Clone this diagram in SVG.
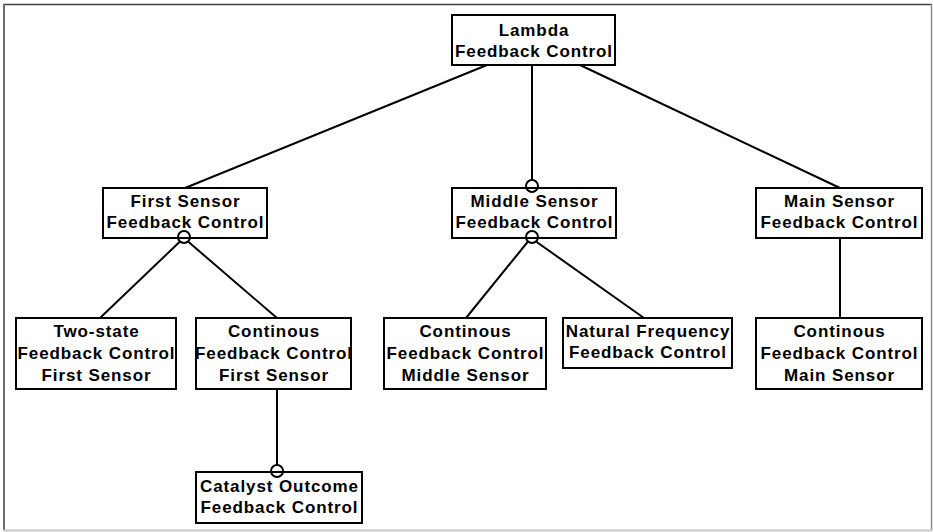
<svg xmlns="http://www.w3.org/2000/svg" width="933" height="532" viewBox="0 0 933 532">
  <style>
    .box { fill: #ffffff; stroke: #000000; stroke-width: 2; }
    .lbl { font-family: "Liberation Sans", Arial, sans-serif; font-size: 17px; font-weight: bold; letter-spacing: 0.9px; fill: #000000; text-anchor: middle; }
    .edge { stroke: #000000; stroke-width: 2; fill: none; }
    .opt { stroke: #000000; stroke-width: 2; fill: none; }
  </style>
  <rect x="0" y="0" width="933" height="532" fill="#ffffff"/>
  <!-- panel frame -->
  <g id="frame">
    <line x1="3" y1="4.5" x2="932" y2="4.5" stroke="#404040" stroke-width="1.5"/>
    <line x1="4" y1="4" x2="4" y2="531" stroke="#707070" stroke-width="2"/>
    <line x1="931.5" y1="4" x2="931.5" y2="531" stroke="#8a8a8a" stroke-width="1.5"/>
    <line x1="3" y1="530.5" x2="932" y2="530.5" stroke="#c8c8c8" stroke-width="2"/>
  </g>

  <!-- nodes -->
  <g id="lambda">
    <rect class="box" x="452" y="15" width="163" height="50"/>
    <text class="lbl" x="534" y="36">Lambda</text>
    <text class="lbl" x="534" y="57">Feedback Control</text>
  </g>
  <g id="first-sensor">
    <rect class="box" x="103" y="188" width="164" height="50"/>
    <text class="lbl" x="185.5" y="207">First Sensor</text>
    <text class="lbl" x="185.5" y="228">Feedback Control</text>
  </g>
  <g id="middle-sensor">
    <rect class="box" x="452" y="188" width="164" height="50"/>
    <text class="lbl" x="534.5" y="207">Middle Sensor</text>
    <text class="lbl" x="534.5" y="228">Feedback Control</text>
  </g>
  <g id="main-sensor">
    <rect class="box" x="756" y="188" width="166" height="50"/>
    <text class="lbl" x="839.5" y="207">Main Sensor</text>
    <text class="lbl" x="839.5" y="228">Feedback Control</text>
  </g>
  <g id="two-state-first">
    <rect class="box" x="16" y="318" width="160" height="71"/>
    <text class="lbl" x="96.5" y="337">Two-state</text>
    <text class="lbl" x="96.5" y="359">Feedback Control</text>
    <text class="lbl" x="96.5" y="381">First Sensor</text>
  </g>
  <g id="continuous-first">
    <rect class="box" x="196" y="318" width="155" height="71"/>
    <text class="lbl" x="274" y="337">Continous</text>
    <text class="lbl" x="274" y="359">Feedback Control</text>
    <text class="lbl" x="274" y="381">First Sensor</text>
  </g>
  <g id="continuous-middle">
    <rect class="box" x="384" y="318" width="162" height="71"/>
    <text class="lbl" x="465.5" y="337">Continous</text>
    <text class="lbl" x="465.5" y="359">Feedback Control</text>
    <text class="lbl" x="465.5" y="381">Middle Sensor</text>
  </g>
  <g id="natural-frequency">
    <rect class="box" x="563" y="318" width="169" height="50"/>
    <text class="lbl" x="648" y="337">Natural Frequency</text>
    <text class="lbl" x="648" y="358">Feedback Control</text>
  </g>
  <g id="continuous-main">
    <rect class="box" x="756" y="318" width="166" height="71"/>
    <text class="lbl" x="839.5" y="337">Continous</text>
    <text class="lbl" x="839.5" y="359">Feedback Control</text>
    <text class="lbl" x="839.5" y="381">Main Sensor</text>
  </g>
  <g id="catalyst-outcome">
    <rect class="box" x="196" y="472" width="166" height="51"/>
    <text class="lbl" x="279.5" y="492">Catalyst Outcome</text>
    <text class="lbl" x="279.5" y="513">Feedback Control</text>
  </g>

  <!-- connectors -->
  <g id="connectors">
    <line class="edge" x1="487" y1="65" x2="185" y2="188"/>
    <line class="edge" x1="532" y1="65" x2="532" y2="180"/>
    <circle class="opt" cx="532" cy="186" r="6"/>
    <line class="edge" x1="580" y1="65" x2="840" y2="188"/>

    <circle class="opt" cx="184" cy="237" r="6"/>
    <line class="edge" x1="180" y1="241.5" x2="100" y2="318"/>
    <line class="edge" x1="188" y1="241.5" x2="277" y2="318"/>

    <circle class="opt" cx="532" cy="237" r="6"/>
    <line class="edge" x1="528" y1="241.5" x2="466" y2="318"/>
    <line class="edge" x1="536" y1="241.5" x2="644" y2="318"/>

    <line class="edge" x1="840" y1="238" x2="840" y2="318"/>

    <line class="edge" x1="277" y1="389" x2="277" y2="465"/>
    <circle class="opt" cx="277" cy="471" r="6"/>
  </g>
</svg>
